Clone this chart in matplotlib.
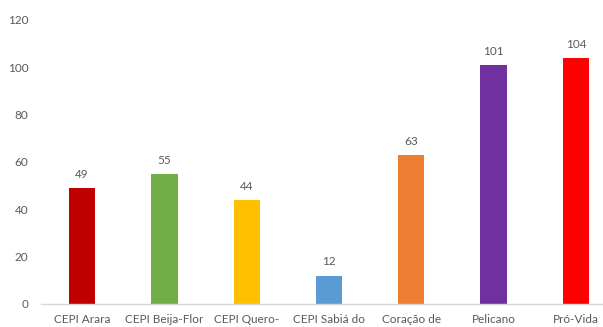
import matplotlib
matplotlib.use("Agg")
import matplotlib.pyplot as plt

categories = ["CEPI Arara", "CEPI Beija-Flor", "CEPI Quero-", "CEPI Sabiá do",
              "Coração de", "Pelicano", "Pró-Vida"]
values = [49, 55, 44, 12, 63, 101, 104]
colors = ["#C00000", "#70AD47", "#FFC000", "#5B9BD5", "#ED7D31", "#7030A0", "#FF0000"]
yticks = [0, 20, 40, 60, 80, 100, 120]

plt.rcParams["font.family"] = ["Lato", "DejaVu Sans"]
text_color = "#595959"

W, H = 603, 327
fig = plt.figure(figsize=(W / 100, H / 100), dpi=100)
left_px, right_px = 41, 617
top_px, bottom_px = 20, 304
ax = fig.add_axes([left_px / W, (H - bottom_px) / H,
                   (right_px - left_px) / W, (bottom_px - top_px) / H])

x = range(len(categories))
bars = ax.bar(x, values, width=0.32, color=colors, zorder=2)
for xi, v in zip(x, values):
    ax.annotate(str(v), (xi, v), xytext=(0, 6), textcoords="offset points",
                ha="center", va="bottom", fontsize=8.5, color=text_color)

ax.set_xlim(-0.5, len(categories) - 0.5)
ax.set_ylim(0, 120)
ax.set_yticks(yticks)
ax.set_yticklabels([str(t) for t in yticks], fontsize=8.5, color=text_color)
ax.set_xticks(list(x))
ax.set_xticklabels(categories, fontsize=8.5, color=text_color)
ax.tick_params(axis="both", length=0)
ax.tick_params(axis="y", pad=9)
ax.tick_params(axis="x", pad=7.5)

for side in ["top", "right", "left"]:
    ax.spines[side].set_visible(False)
ax.spines["bottom"].set_color("#D9D9D9")
ax.spines["bottom"].set_linewidth(1)

fig.savefig("out.png", dpi=100)
